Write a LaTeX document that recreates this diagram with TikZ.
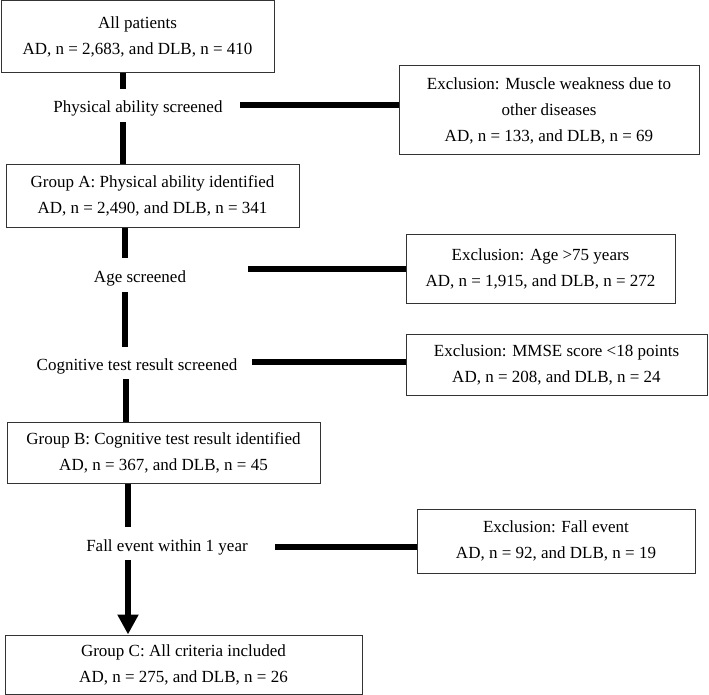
\documentclass[tikz,border=0pt]{standalone}
\usepackage{fontspec}
\setmainfont{Liberation Serif}
\usetikzlibrary{arrows.meta}
\tikzset{
  box/.style={draw=black!80, line width=1pt, rectangle, inner sep=0pt, align=center,
    font=\fontsize{17}{26}\selectfont},
  lbl/.style={inner sep=0pt, align=center, font=\fontsize{17}{26}\selectfont},
  conn/.style={line width=6.5pt, black},
}
\begin{document}
\begin{tikzpicture}[x=1pt,y=-1pt]
\useasboundingbox (0,0) rectangle (709,695);
% boxes
\node[box, minimum width=273pt, minimum height=72pt] (all) at (137.5,37) {All patients\\AD, n = 2,683, and DLB, n = 410};
\node[box, minimum width=300pt, minimum height=89pt] (ex1) at (549,110.5) {Exclusion: Muscle weakness due to\\other diseases\\AD, n = 133, and DLB, n = 69};
\node[box, minimum width=293pt, minimum height=62pt] (ga) at (152.5,196) {Group A: Physical ability identified\\AD, n = 2,490, and DLB, n = 341};
\node[box, minimum width=269pt, minimum height=69pt] (ex2) at (540.5,268.5) {Exclusion: Age >75 years\\AD, n = 1,915, and DLB, n = 272};
\node[box, minimum width=301pt, minimum height=61pt] (ex3) at (556.5,364.5) {Exclusion: MMSE score <18 points\\AD, n = 208, and DLB, n = 24};
\node[box, minimum width=313pt, minimum height=61pt] (gb) at (163.5,452.5) {Group B: Cognitive test result identified\\AD, n = 367, and DLB, n = 45};
\node[box, minimum width=278pt, minimum height=64pt] (ex4) at (556,541) {Exclusion: Fall event\\AD, n = 92, and DLB, n = 19};
\node[box, minimum width=357pt, minimum height=59pt] (gc) at (183.5,664.5) {Group C: All criteria included\\AD, n = 275, and DLB, n = 26};
% screening labels
\node[lbl] (s1) at (138,108) {Physical ability screened};
\node[lbl] (s2) at (140,278) {Age screened};
\node[lbl] (s3) at (137,366) {Cognitive test result screened};
\node[lbl] (s4) at (167,547) {Fall event within 1 year};
% free ends
\coordinate (v1a) at (123,89);
\coordinate (v1b) at (123,122);
\coordinate (v2a) at (125,258);
\coordinate (v2b) at (125,292);
\coordinate (v3a) at (125,347);
\coordinate (v3b) at (126,379);
\coordinate (v4a) at (128,527);
\coordinate (v4b) at (128,560);
\coordinate (h1) at (240,105);
\coordinate (h2) at (248,269);
\coordinate (h3) at (252,362);
\coordinate (h4) at (275,547);
% vertical connectors
\draw[conn] (all.south -| v1a) -- (v1a);
\draw[conn] (v1b) -- (ga.north -| v1b);
\draw[conn] (ga.south -| v2a) -- (v2a);
\draw[conn] (v2b) -- (v3a);
\draw[conn] (v3b) -- (gb.north -| v3b);
\draw[conn] (gb.south -| v4a) -- (v4a);
\draw[conn, -{Triangle[width=20pt,length=20pt]}] (v4b) -- (gc.north -| v4b);
% horizontal connectors
\draw[conn] (h1) -- (h1 -| ex1.west);
\draw[conn] (h2) -- (h2 -| ex2.west);
\draw[conn] (h3) -- (h3 -| ex3.west);
\draw[conn] (h4) -- (h4 -| ex4.west);
\end{tikzpicture}
\end{document}
